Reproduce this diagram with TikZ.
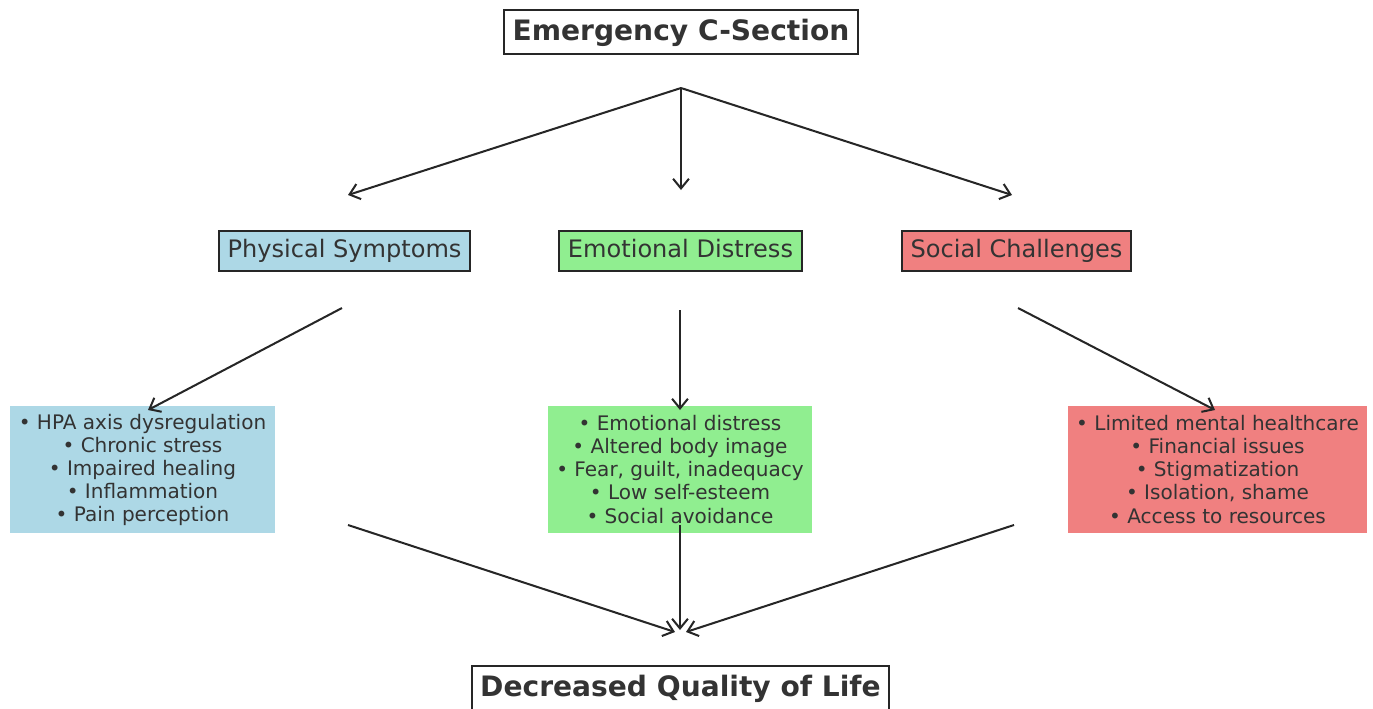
\documentclass[tikz,border=0pt]{standalone}
\usepackage{fontspec}
\setmainfont{DejaVu Sans}
\usetikzlibrary{arrows.meta,positioning}

\definecolor{physblue}{RGB}{173,216,230}
\definecolor{emogreen}{RGB}{144,238,144}
\definecolor{socred}{RGB}{240,128,128}
\definecolor{inkgray}{RGB}{51,51,51}

\begin{document}
\begin{tikzpicture}[x=0.02cm, y=-0.02cm, >={Straight Barb[length=5.5pt,width=9pt]},
    outcome/.style={draw=black!85, line width=0.9pt, fill=white, text=inkgray,
      font=\bfseries\fontsize{16}{19}\selectfont, minimum height=0.88cm, inner sep=0pt,
      text height=0.95em, text depth=0em},
    factor/.style={draw=black!85, line width=0.9pt, text=inkgray,
      font=\fontsize{13.7}{16}\selectfont, minimum height=0.8cm, inner sep=0pt,
      text height=0.75em, text depth=0.05em},
    detail/.style={text=inkgray, align=center, minimum height=2.54cm, inner sep=0pt,
      font=\fontsize{11.4}{13.1}\selectfont},
    flow/.style={->, line width=1.15pt, draw=black!85}]
  \useasboundingbox (0,0) rectangle (1373,708);

  % top and bottom
  \node[outcome, minimum width=7.08cm] (csec) at (681,32) {Emergency C-Section};
  \node[outcome, minimum width=8.34cm] (qol) at (680.5,688) {Decreased Quality of Life};

  % the three branches
  \node[factor, fill=physblue, minimum width=5.02cm] (phys) at (344.5,251) {Physical Symptoms};
  \node[factor, fill=emogreen, minimum width=4.86cm] (emo) at (680.5,251) {Emotional Distress};
  \node[factor, fill=socred, minimum width=4.58cm] (soc) at (1016.5,251) {Social Challenges};

  \node[detail, fill=physblue, minimum width=5.3cm] (physlist) at (142.5,469.5)
    {• HPA axis dysregulation\\ • Chronic stress\\ • Impaired healing\\ • Inflammation\\ • Pain perception};
  \node[detail, fill=emogreen, minimum width=5.28cm] (emolist) at (680,469.5)
    {• Emotional distress\\ • Altered body image\\ • Fear, guilt, inadequacy\\ • Low self-esteem\\ • Social avoidance};
  \node[detail, fill=socred, minimum width=5.98cm] (soclist) at (1217.5,469.5)
    {• Limited mental healthcare\\ • Financial issues\\ • Stigmatization\\ • Isolation, shame\\ • Access to resources};

  % arrow ends
  \coordinate (split) at (681,88);
  \coordinate (physin) at (348,195);
  \coordinate (emoin) at (681,190);
  \coordinate (socin) at (1012,195);
  \coordinate (physout) at (342,308);
  \coordinate (emoout) at (680,310);
  \coordinate (socout) at (1018,308);
  \coordinate (physlistin) at (148,410);
  \coordinate (emolistin) at (680,410);
  \coordinate (soclistin) at (1215,410);
  \coordinate (physlistout) at (348,525);
  \coordinate (emolistout) at (680,525);
  \coordinate (soclistout) at (1014,525);
  \coordinate (mergeL) at (675,632);
  \coordinate (mergeM) at (680,630);
  \coordinate (mergeR) at (686,632);

  \draw[flow] (split) -- (physin);
  \draw[flow] (split) -- (emoin);
  \draw[flow] (split) -- (socin);
  \draw[flow] (physout) -- (physlistin);
  \draw[flow] (emoout) -- (emolistin);
  \draw[flow] (socout) -- (soclistin);
  \draw[flow] (physlistout) -- (mergeL);
  \draw[flow] (emolistout) -- (mergeM);
  \draw[flow] (soclistout) -- (mergeR);
\end{tikzpicture}
\end{document}
